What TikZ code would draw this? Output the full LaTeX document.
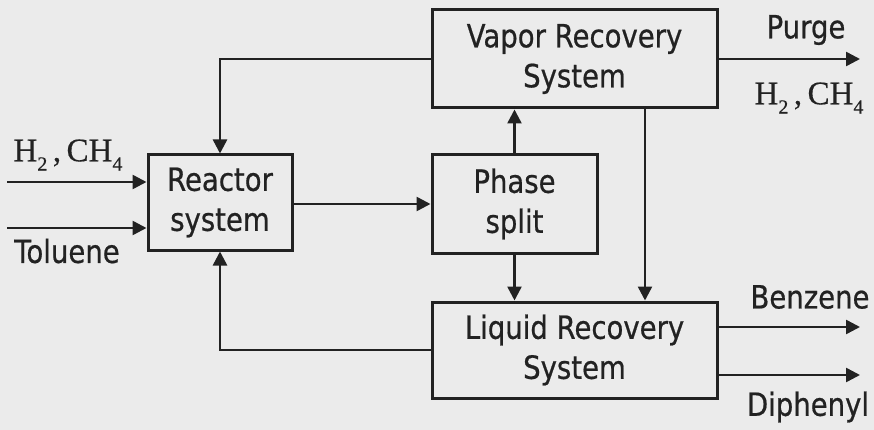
\documentclass[tikz,border=0pt]{standalone}
\usepackage{fontspec}
\setmainfont{DejaVu Sans}[FakeStretch=0.86, FakeBold=0.6]
\newfontfamily\timesf{Liberation Serif}[FakeBold=0.5]
\usetikzlibrary{arrows.meta}
\definecolor{ink}{HTML}{222222}
\definecolor{paper}{HTML}{EBEBEB}
\newcommand\subsc[1]{\raisebox{-0.28em}{\fontsize{20}{20}\selectfont #1}}
\newcommand\gasmix{{\timesf\fontsize{33}{33}\selectfont H\subsc{2}\,,\,CH\subsc{4}}}
\tikzset{
  box/.style={draw=ink, line width=3pt, fill=none, text=ink, align=center,
    inner sep=0pt, font=\fontsize{32}{40}\selectfont},
  arr/.style={draw=ink, line width=2.5pt, -{Triangle[length=14pt,width=14pt]}},
  lbl/.style={text=ink, inner sep=0pt, font=\fontsize{32}{36}\selectfont}
}
\begin{document}
\begin{tikzpicture}[x=1pt,y=-1pt]
\fill[paper] (0,0) rectangle (874,430);
\useasboundingbox (0,0) rectangle (874,430);
\node[box, minimum width=285pt, minimum height=98pt] (V) at (574.5,59) {Vapor Recovery\\System};
\node[box, minimum width=144pt, minimum height=95pt] (R) at (220,202.5) {Reactor\\system};
\node[box, minimum width=165pt, minimum height=98pt] (P) at (514.5,204) {Phase\\split};
\node[box, minimum width=285pt, minimum height=96pt] (L) at (574.5,350) {Liquid Recovery\\System};
\coordinate (in1) at (7,182);
\coordinate (in2) at (7,228);
\coordinate (vd) at (645,108);
\coordinate (o1) at (860,59);
\coordinate (o2) at (860,327);
\coordinate (o3) at (860,375);
\draw[arr] (V.west) -| (R.north);
\draw[arr] (in1) -- (in1 -| R.west);
\draw[arr] (in2) -- (in2 -| R.west);
\draw[arr] (P.west -| R.east) -- (P.west);
\draw[arr] (P.north) -- (P.north |- V.south);
\draw[arr] (P.south) -- (P.south |- L.north);
\draw[arr] (vd) -- (vd |- L.north);
\draw[arr] (L.west) -| (R.south);
\draw[arr] (V.east) -- (o1);
\draw[arr] (o2 -| L.east) -- (o2);
\draw[arr] (o3 -| L.east) -- (o3);
\node[lbl] (tpurge) at (806,30) {Purge};
\node[lbl] (tgas2) at (809,98) {\gasmix};
\node[lbl] (tbenz) at (810,297) {Benzene};
\node[lbl] (tdiph) at (808,407) {Diphenyl};
\node[lbl] (ttol) at (67,251) {Toluene};
\node[lbl] (tgas1) at (68,155) {\gasmix};
\end{tikzpicture}
\end{document}
